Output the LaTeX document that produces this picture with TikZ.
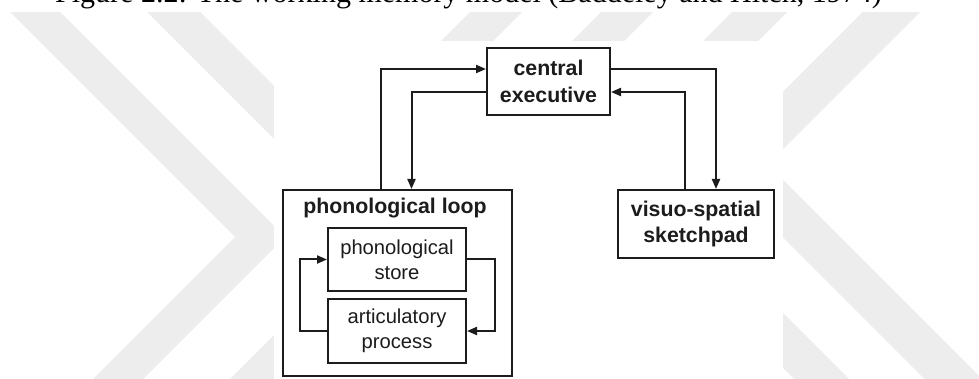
\documentclass[tikz,border=0pt]{standalone}
\usepackage{fontspec}
\setmainfont{Liberation Sans}
\newfontfamily\captionserif{Liberation Serif}
\usetikzlibrary{arrows.meta}
\definecolor{wmgray}{HTML}{EDEDED}
\definecolor{ink}{HTML}{1C1C1C}

\begin{document}
\begin{tikzpicture}[x=1pt,y=-1pt,
  box/.style={draw=ink, line width=2pt, inner sep=0pt, align=center, text=ink},
  link/.style={draw=ink, line width=2pt, -{Triangle[length=10pt,width=8pt]}},
  boldtext/.style={font=\bfseries\fontsize{21.3}{27}\selectfont},
  boldpair/.style={font=\bfseries\fontsize{21.3}{25.7}\selectfont},
  plaintext/.style={font=\fontsize{20.2}{25.4}\selectfont},
]
\useasboundingbox (0,0) rectangle (979,379);
\clip (0,0) rectangle (979,379);
\fill[white] (0,0) rectangle (979,379);

% background chevrons
\fill[wmgray] (-2,0) -- (235,237) -- (93,379) -- (143,379) -- (285,237) -- (48,0) -- cycle;
\fill[wmgray] (135,0) -- (372,237) -- (230,379) -- (283,379) -- (425,237) -- (188,0) -- cycle;
\fill[wmgray] (874.5,0) -- (710,164.5) -- (924.5,379) -- (982,379) -- (767.5,164.5) -- (932,0) -- cycle;
\fill[wmgray] (744,0) -- (579.5,164.5) -- (794,379) -- (849,379) -- (634.5,164.5) -- (799,0) -- cycle;
\fill[wmgray] (613,0) -- (448.5,164.5) -- (663,379) -- (715,379) -- (500.5,164.5) -- (665,0) -- cycle;
\fill[wmgray] (482,0) -- (317.5,164.5) -- (532,379) -- (584,379) -- (369.5,164.5) -- (534,0) -- cycle;
\fill[white] (0,0) rectangle (979,12);
\fill[white] (274,41) rectangle (783,379);

% caption line
\node[anchor=base west, inner sep=0pt, text=black,
      font=\captionserif\fontsize{30}{36}\selectfont] (caption) at (55,3)
  {Figure 2.2: The working memory model (Baddeley and Hitch, 1974)};

% components
\node[box, boldtext, minimum width=123pt, minimum height=67pt] (ce) at (548.5,81.5) {central\\executive};
\node[box, minimum width=229pt, minimum height=186pt] (pl) at (397.5,283) {};
\node[anchor=base, inner sep=0pt, text=ink, boldtext] (pltitle) at (395,213.5) {phonological loop};
\node[box, plaintext, minimum width=138pt, minimum height=63pt] (ps) at (397,259.5) {phonological\\store};
\node[box, plaintext, minimum width=138pt, minimum height=64pt] (ap) at (397,331) {articulatory\\process};
\node[box, boldpair, minimum width=156pt, minimum height=68pt] (vss) at (696,224) {visuo-spatial\\sketchpad};

% routing channels
\coordinate (c1) at (381,69);
\coordinate (c2) at (411.5,92);
\coordinate (c3) at (716,69);
\coordinate (c4) at (685,92);
\coordinate (c5) at (299.5,0);
\coordinate (c6) at (494.5,0);

\draw[link] (pl.north -| c1) |- (ce.west |- c1);
\draw[link] (ce.west |- c2) -| (pl.north -| c2);
\draw[link] (ce.east |- c3) -| (vss.north -| c3);
\draw[link] (vss.north -| c4) |- (ce.east |- c4);
\draw[link] (ap.west) -| (c5 |- ps.west) -- (ps.west);
\draw[link] (ps.east) -| (c6 |- ap.east) -- (ap.east);
\end{tikzpicture}
\end{document}
